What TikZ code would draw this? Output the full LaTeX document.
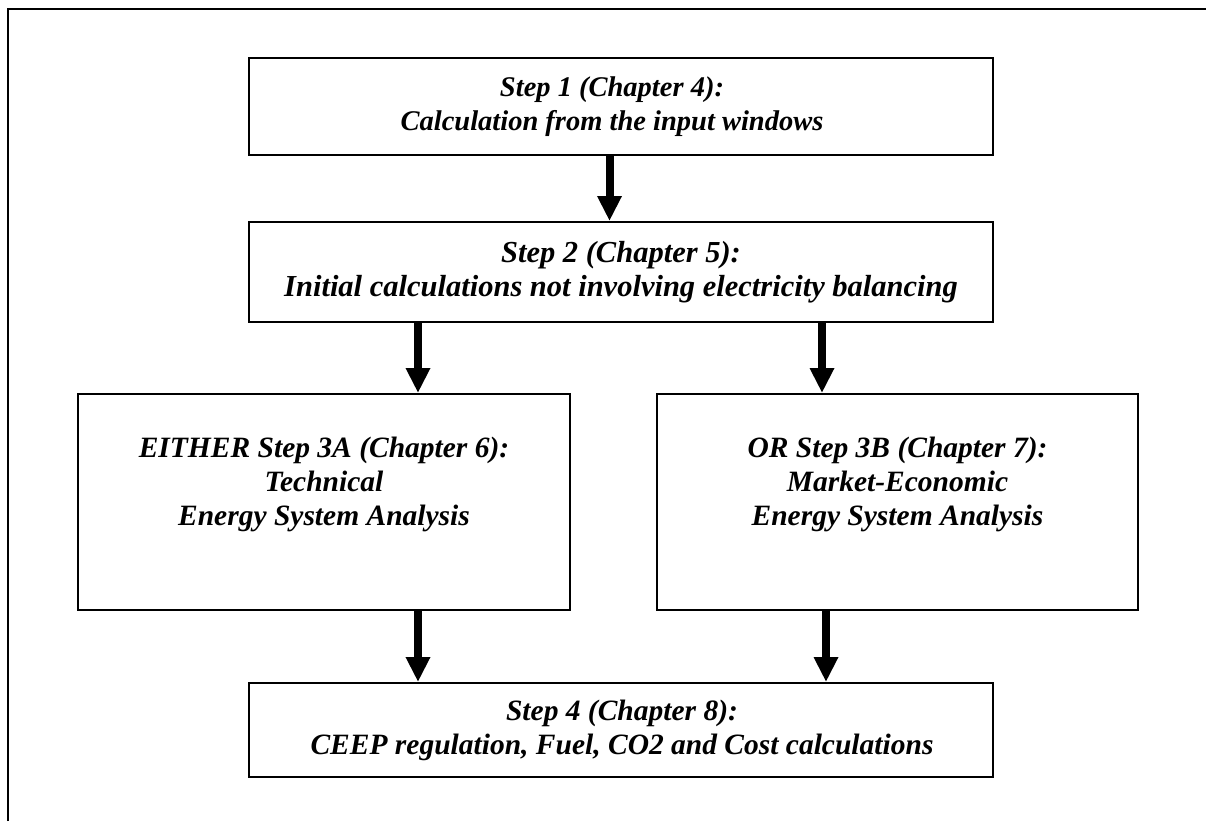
\documentclass[tikz,border=0pt]{standalone}
\usepackage{fontspec}
\setmainfont{Liberation Serif}
\usetikzlibrary{arrows.meta}
\begin{document}
\begin{tikzpicture}[x=1pt,y=-1pt,
  box/.style={draw, line width=2pt, inner sep=0pt},
  txt/.style={align=center, inner sep=0pt},
  sz/.style={font=\fontsize{#1}{34}\selectfont\bfseries\itshape},
  flow/.style={line width=8pt, -{Triangle[length=25pt 0 0,width=23pt 0 0]}}]
\useasboundingbox (0,0) rectangle (1206,821);
% frame along the top and left edges
\draw[line width=2pt] (8,821) -- (8,9) -- (1206,9);
% process boxes
\node[box, minimum width=744pt, minimum height=97pt]  (s1)  at (621,106.5) {};
\node[box, minimum width=744pt, minimum height=100pt] (s2)  at (621,272) {};
\node[box, minimum width=492pt, minimum height=216pt] (s3a) at (324,502) {};
\node[box, minimum width=481pt, minimum height=216pt] (s3b) at (897.5,502) {};
\node[box, minimum width=744pt, minimum height=94pt]  (s4)  at (621,730) {};
% box texts
\node[txt, sz=28.5] (t1) at (612,106.5) {Step 1 (Chapter 4):\\Calculation from the input windows};
\node[txt, sz=30.5] (t2) at (621,272) {Step 2 (Chapter 5):\\Initial calculations not involving electricity balancing};
\node[txt, sz=29.5] (t3a) at (324,484) {EITHER Step 3A (Chapter 6):\\Technical\\Energy System Analysis};
\node[txt, sz=29.5] (t3b) at (897.5,484) {OR Step 3B (Chapter 7):\\Market-Economic\\Energy System Analysis};
\node[txt, sz=29.5] (t4) at (622,730) {Step 4 (Chapter 8):\\CEEP regulation, Fuel, CO2 and Cost calculations};
% flow arrows
\draw[flow] (s1.south -| 609.5,0) -- (s2.north -| 609.5,0);
\draw[flow] (s2.south -| 418,0) -- (s3a.north -| 418,0);
\draw[flow] (s2.south -| 822,0) -- (s3b.north -| 822,0);
\draw[flow] (s3a.south -| 418,0) -- (s4.north -| 418,0);
\draw[flow] (s3b.south -| 826,0) -- (s4.north -| 826,0);
\end{tikzpicture}
\end{document}
